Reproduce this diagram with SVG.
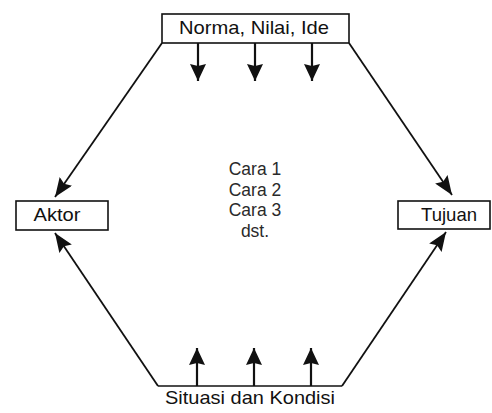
<svg xmlns="http://www.w3.org/2000/svg" width="492" height="413" viewBox="0 0 492 413">
  <defs>
    <style>
      .box { fill: #fff; stroke: #111; stroke-width: 1.6; }
      .label { font-family: "Liberation Sans", Arial, sans-serif; font-size: 19px; fill: #111; text-anchor: middle; }
      .mid { font-family: "Liberation Sans", Arial, sans-serif; font-size: 17.5px; fill: #2a2a2a; text-anchor: middle; }
      .edge { stroke: #111; stroke-width: 1.8; fill: none; }
      .tick { stroke: #111; stroke-width: 2.2; fill: none; }
    </style>
    <marker id="head" viewBox="0 0 19 15" refX="19" refY="7.5" markerWidth="19" markerHeight="15" markerUnits="userSpaceOnUse" orient="auto">
      <path d="M0,0 L19,7.5 L0,15 L3,7.5 z" fill="#111"/>
    </marker>
    <marker id="headBig" viewBox="0 0 17 16" refX="17" refY="8" markerWidth="17" markerHeight="16" markerUnits="userSpaceOnUse" orient="auto">
      <path d="M0,0 L17,8 L0,16 L2,8 z" fill="#111"/>
    </marker>
  </defs>

  <g id="connectors">
    <!-- Norma, Nilai, Ide down to Aktor and Tujuan -->
    <line class="edge" x1="162" y1="43" x2="55" y2="197" marker-end="url(#head)"/>
    <line class="edge" x1="349" y1="43" x2="452" y2="195" marker-end="url(#head)"/>
    <!-- Situasi dan Kondisi up to Aktor and Tujuan -->
    <line class="edge" x1="158" y1="386" x2="55" y2="233" marker-end="url(#head)"/>
    <line class="edge" x1="342" y1="386" x2="446" y2="232" marker-end="url(#head)"/>
    <!-- downward arrows under the top box -->
    <line class="tick" x1="198" y1="43" x2="198" y2="81" marker-end="url(#headBig)"/>
    <line class="tick" x1="255" y1="43" x2="255" y2="81" marker-end="url(#headBig)"/>
    <line class="tick" x1="312" y1="43" x2="312" y2="81" marker-end="url(#headBig)"/>
    <!-- upward arrows above the bottom box -->
    <line class="tick" x1="197" y1="386" x2="197" y2="348" marker-end="url(#headBig)"/>
    <line class="tick" x1="254" y1="386" x2="254" y2="348" marker-end="url(#headBig)"/>
    <line class="tick" x1="311" y1="386" x2="311" y2="348" marker-end="url(#headBig)"/>
  </g>

  <g id="norma">
    <rect class="box" x="162" y="14" width="187" height="29"/>
    <text class="label" x="254" y="34" textLength="150" lengthAdjust="spacingAndGlyphs">Norma, Nilai, Ide</text>
  </g>

  <g id="aktor">
    <rect class="box" x="16" y="201" width="92" height="29"/>
    <text class="label" x="57" y="221" textLength="47" lengthAdjust="spacingAndGlyphs">Aktor</text>
  </g>

  <g id="tujuan">
    <rect class="box" x="398" y="201" width="92" height="28"/>
    <text class="label" x="449" y="221" textLength="56" lengthAdjust="spacingAndGlyphs">Tujuan</text>
  </g>

  <g id="situasi">
    <line class="box" x1="158" y1="386" x2="342" y2="386"/>
    <text class="label" x="250" y="404" textLength="170" lengthAdjust="spacingAndGlyphs">Situasi dan Kondisi</text>
  </g>

  <g id="cara">
    <text class="mid" x="255" y="175">Cara 1</text>
    <text class="mid" x="255" y="196">Cara 2</text>
    <text class="mid" x="255" y="216">Cara 3</text>
    <text class="mid" x="255" y="237">dst.</text>
  </g>
</svg>
